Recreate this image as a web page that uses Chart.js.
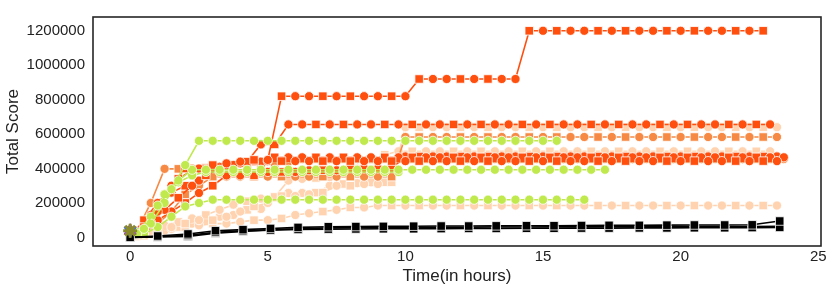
<!DOCTYPE html>
<html>
<head>
<meta charset="utf-8">
<script src="https://cdn.jsdelivr.net/npm/chart.js@4.4.0/dist/chart.umd.min.js"></script>
<style>
html, body { margin: 0; padding: 0; background: #fff; }
#wrap { width: 831px; height: 291px; }
</style>
</head>
<body>
<div id="wrap"><canvas id="score-chart"></canvas></div>
<script>
// time grids (hours)
const hours = [0, 0.5, 1, 1.5, 2, 2.5, 3, 3.5, 4, 4.5, 5, 5.5, 6, 6.5, 7, 7.5, 8, 8.5, 9, 9.5,
    10, 10.5, 11, 11.5, 12, 12.5, 13, 13.5, 14, 14.5, 15, 15.5, 16, 16.5, 17, 17.5, 18, 18.5, 19, 19.5,
    20, 20.5, 21, 21.5, 22, 22.5, 23, 23.5, 24];
const hoursOffset = [0, 0.25, 0.75, 1.25, 1.75, 2.25, 2.75, 3.25, 3.75, 4.25,
    4.75, 5.25, 5.75, 6.25, 6.75, 7.25, 7.75, 8.25, 8.75, 9.25,
    9.75, 10.25, 10.75, 11.25, 11.75, 12.25, 12.75, 13.25, 13.75, 14.25,
    14.75, 15.25, 15.75, 16.25, 16.75, 17.25, 17.75, 18.25, 18.75, 19.25,
    19.75, 20.25, 20.75, 21.25, 21.75, 22.25, 22.75, 23.25, 23.75];
const hoursBlack = [0, 1.0, 2.1, 3.1, 4.1, 5.1, 6.1, 7.2, 8.2, 9.2, 10.3, 11.3, 12.3, 13.3, 14.4, 15.4,
    16.4, 17.4, 18.5, 19.5, 20.5, 21.6, 22.6, 23.6];

const xTicks = [0, 5, 10, 15, 20, 25];
const yTicks = [0, 200000, 400000, 600000, 800000, 1000000, 1200000];

// red runs
const red1 = [0, 60000, 150000, 300000, 400000, 400000, 420000, 430000, 440000, 450000,
    450000, 820000, 820000, 820000, 820000, 820000, 820000, 820000, 820000, 820000,
    820000, 920000, 920000, 920000, 920000, 920000, 920000, 920000, 920000, 1200000,
    1200000, 1200000, 1200000, 1200000, 1200000, 1200000, 1200000, 1200000, 1200000, 1200000,
    1200000, 1200000, 1200000, 1200000, 1200000, 1200000, 1200000, null, null];
const red2 = [0, 20000, 90000, 160000, 230000, 300000, 360000, 400000, 420000, 440000,
    540000, 540000, 656000, 656000, 656000, 656000, 656000, 656000, 656000, 656000,
    656000, 656000, 656000, 656000, 656000, 656000, 656000, 656000, 656000, 656000,
    656000, 656000, 656000, 656000, 656000, 656000, 656000, 656000, 656000, 656000,
    656000, 656000, 656000, 656000, 656000, 656000, 656000, 656000, null];
const red3 = [0, 100000, 200000, 260000, 300000, 330000, 400000, 420000, 430000, 443000,
    443000, 443000, 443000, 443000, 443000, 443000, 443000, 443000, 443000, 443000,
    443000, 443000, 443000, 443000, 443000, 443000, 443000, 443000, 443000, 443000,
    443000, 443000, 443000, 443000, 443000, 443000, 443000, 443000, 443000, 443000,
    443000, 443000, 443000, 443000, 443000, 443000, 443000, 443000, null];
const red4 = [0, 30000, 130000, 250000, 340000, 390000, 400000, 410000, 420000, 430000,
    440000, 465000, 465000, 465000, 465000, 465000, 465000, 465000, 465000, 465000,
    465000, 465000, 465000, 465000, 465000, 465000, 465000, 465000, 465000, 465000,
    465000, 465000, 465000, 465000, 465000, 465000, 465000, 465000, 465000, 465000,
    465000, 465000, 465000, 465000, 465000, 465000, 465000, 465000, 465000];
const red5 = [0, 50000, 100000, 150000, 200000, 258000, 300000, 360000, 360000, 360000,
    380000, 380000, 380000, 390000, 390000, 390000, 400000, 400000, 400000, 400000,
    470000, 470000, 470000, 470000, 470000, 470000, 470000, 470000, 470000, 470000,
    470000, 470000, 470000, 470000, 470000, 470000, 470000, 470000, 470000, 470000,
    470000, 470000, 470000, 470000, 470000, 470000, 470000, 470000, null];

// orange runs
const orange1 = [0, 40000, 200000, 398000, 398000, 400000, 405000, 410000, 410000, 420000,
    420000, 430000, 440000, 455000, 455000, 455000, 455000, 455000, 455000, 455000,
    455000, 455000, 455000, 455000, 455000, 455000, 455000, 455000, 455000, 455000,
    455000, 455000, 455000, 455000, 455000, 455000, 455000, 455000, 455000, 455000,
    455000, 455000, 455000, 455000, 455000, 455000, 455000, 455000, 455000];
const orange2 = [0, 30000, 80000, 150000, 250000, 300000, 353000, 353000, 353000, 353000,
    353000, 353000, 353000, 353000, 353000, 353000, 353000, 353000, 353000, 353000,
    583000, 583000, 583000, 583000, 583000, 583000, 583000, 583000, 583000, 583000,
    583000, 583000, 583000, 583000, 583000, 583000, 583000, 583000, 583000, 583000,
    583000, 583000, 583000, 583000, 583000, 583000, 583000, 583000, null];

// peach runs
const peach1 = [0, 10000, 30000, 60000, 80000, 100000, 100000, 120000, 150000, 180000,
    200000, 240000, 240000, 250000, 260000, 300000, 300000, 310000, 310000, 320000,
    640000, 640000, 640000, 640000, 640000, 640000, 640000, 640000, 640000, 640000,
    640000, 640000, 640000, 640000, 640000, 640000, 640000, 640000, 640000, 640000,
    640000, 640000, 640000, 640000, 640000, 640000, 640000, 640000, null];
const peach2 = [0, 10000, 40000, 70000, 90000, 110000, 130000, 160000, 190000, 210000,
    225000, 235000, 330000, 340000, 345000, 350000, 380000, 400000, 450000, 480000,
    500000, 500000, 500000, 500000, 500000, 500000, 500000, 500000, 500000, 500000,
    500000, 500000, 500000, 500000, 500000, 500000, 500000, 500000, 500000, 500000,
    500000, 500000, 500000, 500000, 500000, 500000, 500000, 500000, null];
const peach3 = [0, 10000, 30000, 50000, 60000, 70000, 80000, 80000, 90000, 100000,
    100000, 110000, 130000, 140000, 150000, 160000, 174000, 174000, 185000, 185000,
    185000, 185000, 185000, 185000, 185000, 185000, 185000, 185000, 185000, 185000,
    185000, 185000, 185000, 185000, 185000, 185000, 185000, 185000, 185000, 185000,
    185000, 185000, 185000, 185000, 185000, 185000, 185000, 185000, null];
const peach4 = [0, 5000, 20000, 40000, 60000, 80000, 100000, 120000, 130000, 160000,
    165000, 230000, 258000, 258000, 260000, 300000, 310000, 315000, 320000, 320000,
    null, null, null, null, null, null, null, null, null, null,
    null, null, null, null, null, null, null, null, null, null,
    null, null, null, null, null, null, null, null, null];

// green runs
const green1 = [0, 50000, 185000, 280000, 420000, 561000, 561000, 561000, 561000, 561000,
    561000, 561000, 561000, 561000, 561000, 561000, 561000, 561000, 561000, 561000,
    561000, 561000, 561000, 561000, 561000, 561000, 561000, 561000, 561000, 561000,
    561000, 561000, null, null, null, null, null, null, null, null,
    null, null, null, null, null, null, null, null, null];
const green2 = [0, 20000, 80000, 200000, 330000, 393000, 393000, 393000, 393000, 393000,
    393000, 393000, 393000, 393000, 393000, 393000, 393000, 393000, 393000, 393000,
    393000, 393000, 393000, 393000, 393000, 393000, 393000, 393000, 393000, 393000,
    393000, 393000, 393000, 393000, 393000, 393000, null, null, null, null,
    null, null, null, null, null, null, null, null, null];
const green3 = [0, 20000, 60000, 120000, 180000, 200000, 219000, 219000, 219000, 219000,
    219000, 219000, 219000, 219000, 219000, 219000, 219000, 219000, 219000, 219000,
    219000, 219000, 219000, 219000, 219000, 219000, 219000, 219000, 219000, 219000,
    219000, 219000, 219000, 219000, null, null, null, null, null, null,
    null, null, null, null, null, null, null, null, null];
const green4 = [0, 30000, 120000, 250000, 320000, 360000, 380000, 380000, 380000, 380000,
    380000, 380000, 380000, 380000, 380000, 380000, 380000, 380000, 380000, 380000,
    380000, null, null, null, null, null, null, null, null, null,
    null, null, null, null, null, null, null, null, null, null,
    null, null, null, null, null, null, null, null, null];

// black runs
const black1 = [0, 8000, 20000, 39000, 45000, 52000, 58000, 62000, 63000, 64000, 65000, 66000,
    66000, 67000, 68000, 68000, 69000, 70000, 70000, 71000, 72000, 72000, 73000, 95000];
const black2 = [0, 4000, 12000, 30000, 38000, 42000, 46000, 48000, 49000, 50000, 50000, 51000,
    52000, 52000, 53000, 53000, 54000, 54000, 55000, 55000, 56000, 56000, 57000, 58000];
const black3 = [0, 2000, 6000, 25000, 35000, 45000, 50000, 55000, 56000, 57000, 58000, 58000,
    59000, 60000, 60000, 61000, 61000, 62000, 62000, 62000, 63000, 63000, 63000, 64000];

// start markers at hour 0
const startHour = [0];
const startScore = [39000];

const RED = "#ff4f0f";
const ORANGE = "#f68a45";
const PEACH = "#ffd3b0";
const GREEN = "#bfe94d";
const BLACK = "#000000";
const MIXED = ["circle", "rect", "circle", "circle", "rect"];

function run(xs, ys, color, style) {
    const pick = (i) => (style === "mixed" ? MIXED[i % MIXED.length] : style);
    return {
        data: xs.map((x, i) => ({ x: x, y: ys[i] })),
        borderColor: color,
        backgroundColor: color,
        pointBackgroundColor: color,
        pointBorderColor: "#ffffff",
        pointBorderWidth: 0.8,
        pointRadius: (c) => (pick(c.dataIndex) === "rect" ? 6 : 4.6),
        pointStyle: (c) => pick(c.dataIndex),
        borderWidth: 1.6,
        tension: 0,
        spanGaps: false,
    };
}

function marker(color, style, rotation) {
    return {
        data: startHour.map((x, i) => ({ x: x, y: startScore[i] })),
        showLine: false,
        pointStyle: style,
        pointRotation: rotation,
        pointRadius: 7,
        pointBackgroundColor: color,
        pointBorderColor: color,
        pointBorderWidth: style === "star" ? 3 : 1,
    };
}

const framePlugin = {
    id: "frame",
    afterDraw(chart) {
        const a = chart.chartArea;
        const c = chart.ctx;
        c.save();
        c.strokeStyle = "#262626";
        c.lineWidth = 1.6;
        c.strokeRect(a.left, a.top, a.right - a.left, a.bottom - a.top);
        c.restore();
    },
};

Chart.defaults.font.family = "'Liberation Sans', Arial, sans-serif";
Chart.defaults.color = "#222222";

const ctx = document.querySelector("#score-chart");
new Chart(ctx, {
    type: "line",
    data: {
        datasets: [
            marker("#8b8a2c", "star", 0),
            marker("#4a6fd8", "triangle", 180),
            marker("#9c3fd0", "triangle", 0),
            run(hoursBlack, black1, BLACK, "rect"),
            run(hoursBlack, black2, BLACK, "rect"),
            run(hoursBlack, black3, BLACK, "rect"),
            run(hours, green1, GREEN, "circle"),
            run(hoursOffset, green2, GREEN, "circle"),
            run(hours, green3, GREEN, "circle"),
            run(hoursOffset, green4, GREEN, "circle"),
            run(hours, red1, RED, "mixed"),
            run(hoursOffset, red2, RED, "mixed"),
            run(hours, red3, RED, "mixed"),
            run(hoursOffset, red4, RED, "mixed"),
            run(hours, red5, RED, "mixed"),
            run(hoursOffset, orange1, ORANGE, "mixed"),
            run(hours, orange2, ORANGE, "mixed"),
            run(hours, peach1, PEACH, "mixed"),
            run(hoursOffset, peach2, PEACH, "mixed"),
            run(hours, peach3, PEACH, "mixed"),
            run(hoursOffset, peach4, PEACH, "mixed"),
        ],
    },
    options: {
        responsive: true,
        maintainAspectRatio: false,
        animation: false,
        layout: { padding: { top: 8, right: 5, left: 0, bottom: 0 } },
        plugins: {
            legend: { display: false },
            tooltip: { enabled: false },
        },
        scales: {
            x: {
                type: "linear",
                min: -1.35,
                max: 25.1,
                afterBuildTicks: (s) => { s.ticks = xTicks.map((v) => ({ value: v })); },
                afterFit: (s) => { s.height = 45; },
                grid: { display: false, drawTicks: false },
                border: { display: false },
                ticks: { font: { size: 15 }, padding: 2, maxRotation: 0 },
                title: { display: true, text: "Time(in hours)", font: { size: 17 }, padding: { top: 0, bottom: 4 } },
            },
            y: {
                type: "linear",
                min: -50000,
                max: 1280000,
                afterBuildTicks: (s) => { s.ticks = yTicks.map((v) => ({ value: v })); },
                afterFit: (s) => { s.width = 93; },
                grid: { display: false, drawTicks: false },
                border: { display: false },
                ticks: { font: { size: 15 }, padding: 8, callback: (v) => String(v) },
                title: { display: true, text: "Total Score", font: { size: 17 }, padding: { top: 3, bottom: 0 } },
            },
        },
    },
    plugins: [framePlugin],
});
</script>
</body>
</html>
